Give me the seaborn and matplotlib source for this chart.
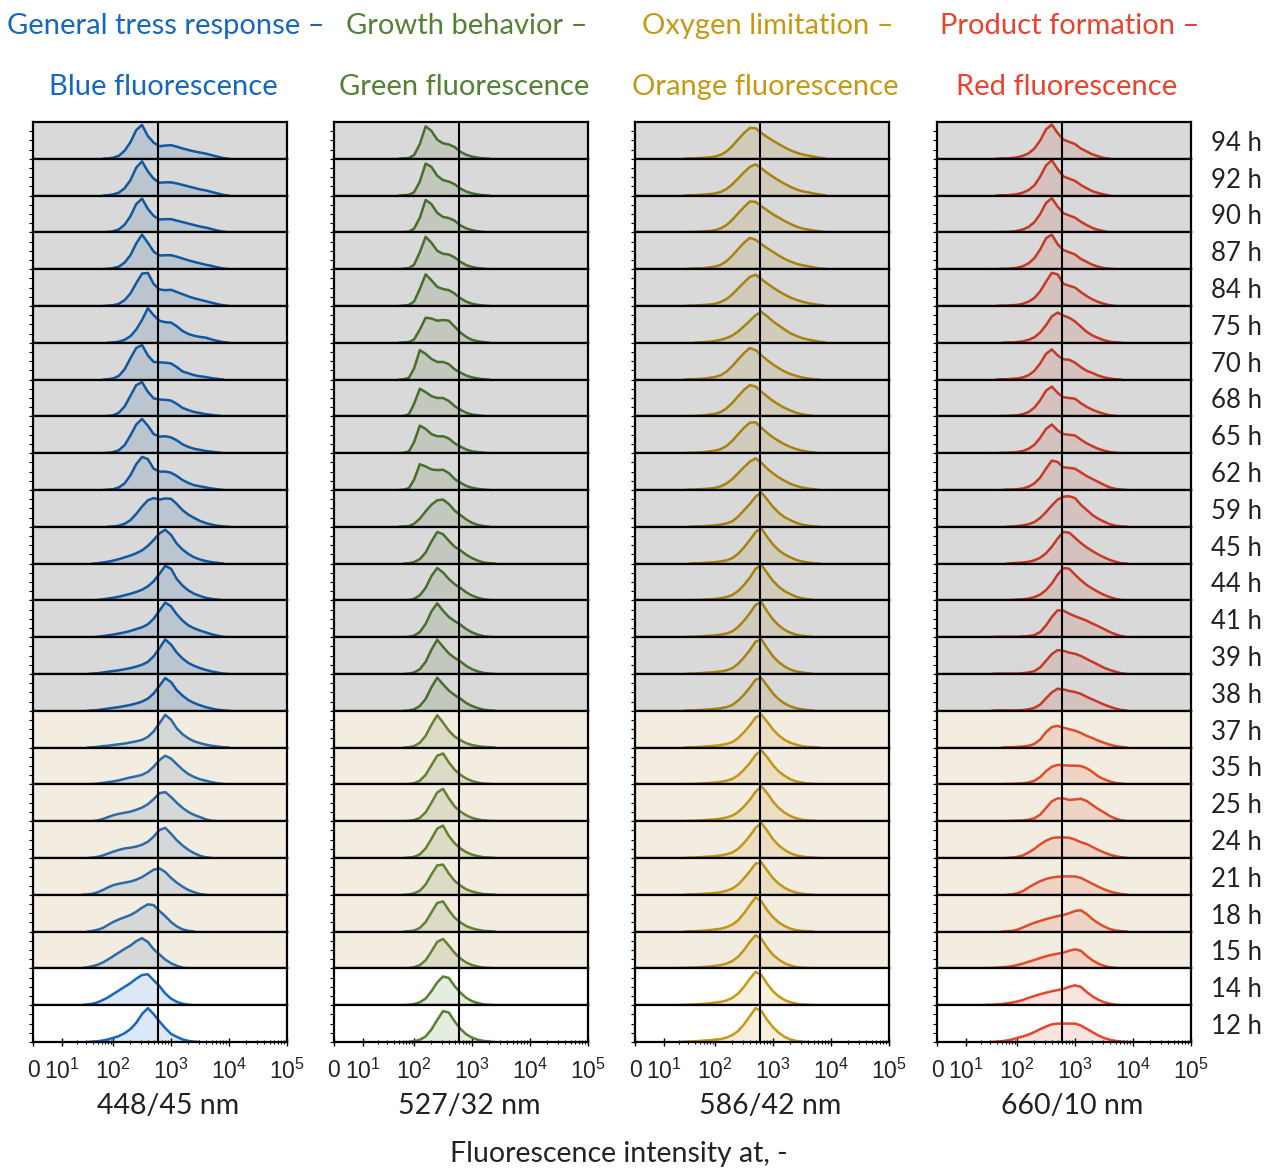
import numpy as np
import matplotlib
matplotlib.use("Agg")
import matplotlib.pyplot as plt
from matplotlib.patches import Rectangle
from matplotlib.ticker import FixedLocator, FixedFormatter
import seaborn as sns

# sampling time of each row, top to bottom
hours = ["94 h", "92 h", "90 h", "87 h", "84 h", "75 h", "70 h", "68 h", "65 h",
         "62 h", "59 h", "45 h", "44 h", "41 h", "39 h", "38 h", "37 h", "35 h",
         "25 h", "24 h", "21 h", "18 h", "15 h", "14 h", "12 h"]
zone = ["gray"] * 16 + ["beige"] * 7 + ["white"] * 2

# x positions of the read heights, in decades (log10 of intensity)
blue_log = np.round(np.arange(1.4, 4.05, 0.1), 1)
green_log = np.round(np.arange(1.7, 3.45, 0.1), 1)
orange_log = np.round(np.arange(1.3, 3.95, 0.1), 1)
red_log = np.round(np.arange(1.4, 3.95, 0.1), 1)

# histogram heights, % of row height, one list per row (same order as hours)
blue = [
    [0,0,0,0,0,1,3,8,22,45,78,92,62,44,34,36,37,33,28,24,20,17,14,10,6,2,0],
    [0,0,0,0,0,1,3,8,20,42,76,93,66,46,35,36,36,33,29,25,21,17,14,10,6,2,0],
    [0,0,0,0,0,1,3,8,21,44,77,92,64,45,35,36,36,32,28,24,20,16,13,9,5,2,0],
    [0,0,0,0,0,1,3,7,18,38,70,94,72,48,37,38,38,34,29,24,20,16,12,9,5,2,0],
    [0,0,0,0,0,1,2,6,16,34,62,88,90,60,45,43,44,38,32,26,21,17,13,9,5,2,0],
    [0,0,0,0,0,0,1,3,8,18,36,62,94,75,60,56,55,45,32,24,19,16,14,9,5,2,0],
    [0,0,0,0,0,1,3,10,28,58,86,94,66,48,47,46,44,34,22,17,12,9,7,4,2,0,0],
    [0,0,0,0,0,1,3,10,27,56,85,93,67,49,46,45,43,34,23,17,12,9,6,4,2,0,0],
    [0,0,0,0,0,1,3,8,22,48,78,93,75,52,45,46,43,35,24,17,12,9,6,4,2,0,0],
    [0,0,0,0,0,1,2,7,18,40,70,90,84,58,50,50,47,38,27,19,13,10,7,4,2,0,0],
    [0,0,0,0,0,0,1,3,8,18,35,55,72,78,74,77,76,62,45,33,24,16,10,6,3,1,0],
    [0,0,0,1,3,5,8,12,17,22,28,36,48,64,82,92,78,54,38,26,17,11,7,4,2,0,0],
    [0,0,0,1,3,5,7,10,14,18,23,29,38,52,72,94,86,58,40,27,18,12,7,4,2,0,0],
    [0,0,0,1,3,5,7,10,13,17,22,27,35,50,72,94,84,62,45,32,24,18,13,8,4,1,0],
    [0,0,1,2,4,6,8,10,13,16,20,25,33,48,70,94,80,58,42,30,22,16,11,7,4,1,0],
    [0,0,1,2,4,6,8,10,13,16,20,25,33,47,68,89,78,56,41,29,21,15,10,6,3,1,0],
    [0,0,1,2,4,5,7,9,11,14,17,21,29,44,66,89,76,52,36,25,17,12,8,5,3,1,0],
    [0,0,1,2,4,6,8,11,15,19,22,26,34,48,66,78,70,55,40,28,20,14,10,6,3,1,0],
    [0,0,0,2,6,11,16,20,23,26,31,37,46,60,76,79,66,50,36,25,17,11,5,1,0,0,0],
    [0,0,1,3,7,12,17,22,26,28,31,36,44,58,76,82,66,48,34,22,13,6,2,0,0,0,0],
    [0,1,3,7,13,20,26,30,33,36,41,48,58,68,72,62,46,33,22,13,7,2,0,0,0,0,0],
    [0,0,2,5,10,18,26,33,39,45,54,65,74,72,56,42,26,14,6,2,0,0,0,0,0,0,0],
    [1,3,6,10,16,24,33,43,53,62,74,82,72,52,38,24,14,7,2,0,0,0,0,0,0,0,0],
    [0,2,4,8,14,21,30,40,50,60,72,82,84,68,52,32,18,9,4,1,0,0,0,0,0,0,0],
    [0,0,1,2,4,7,11,16,24,35,52,76,92,76,56,38,22,14,7,3,1,0,0,0,0,0,0],
]
green = [
    [0,1,2,10,40,88,76,52,42,39,32,19,11,6,3,1,0,0],
    [0,1,2,9,38,87,78,54,42,38,31,19,11,6,3,1,0,0],
    [0,1,2,10,40,88,77,53,42,39,32,19,11,6,3,1,0,0],
    [0,1,3,12,46,88,72,50,42,40,32,20,11,6,3,1,0,0],
    [0,1,3,12,46,86,70,52,46,43,34,21,12,6,3,1,0,0],
    [0,1,2,9,36,68,66,60,62,60,44,28,16,8,4,2,0,0],
    [0,1,5,30,80,70,56,48,48,42,28,19,11,6,3,1,0,0],
    [0,1,6,34,75,66,55,50,50,42,28,18,10,5,3,1,0,0],
    [0,1,5,30,75,66,52,46,46,40,27,18,10,5,3,1,0,0],
    [0,1,5,28,70,64,56,54,55,46,30,20,11,6,3,1,0,0],
    [0,1,2,8,22,42,60,72,74,62,44,32,20,11,5,2,0,0],
    [0,0,1,4,12,30,60,86,80,62,46,36,24,15,8,3,1,0],
    [0,0,1,4,14,34,66,88,76,58,44,34,22,13,7,3,1,0],
    [0,0,1,4,14,36,70,92,72,55,44,34,22,13,7,3,1,0],
    [0,0,1,4,13,33,66,93,74,56,44,34,22,13,7,3,1,0],
    [0,0,1,4,13,32,64,90,72,55,43,33,21,13,7,3,1,0],
    [0,0,1,4,13,32,62,88,68,46,30,20,12,7,4,2,1,0],
    [0,0,1,3,10,26,52,78,84,60,40,26,16,9,5,2,1,0],
    [0,0,1,3,9,24,50,78,88,62,40,26,16,9,5,2,1,0],
    [0,0,1,3,10,26,52,80,88,60,40,26,16,9,5,2,1,0],
    [0,0,1,4,11,28,55,80,82,58,38,25,15,9,5,2,1,0],
    [0,0,1,3,10,26,52,78,82,58,38,25,15,9,5,2,1,0],
    [0,0,1,3,9,22,46,72,80,62,42,27,16,9,5,2,1,0],
    [0,0,1,3,8,18,38,62,78,74,52,34,20,11,6,2,1,0],
    [0,0,0,2,6,15,34,60,84,80,56,36,21,12,6,3,1,0],
]
orange = [
    [0,0,1,1,2,3,4,6,11,20,35,53,70,84,83,70,59,49,40,31,23,17,12,9,6,3,1],
    [0,0,1,1,2,3,4,6,10,18,31,47,63,78,85,74,62,51,41,32,24,17,12,9,6,3,1],
    [0,0,1,1,2,3,4,6,11,20,35,52,69,84,83,71,60,49,40,31,23,16,11,8,5,3,1],
    [0,0,1,2,2,3,5,7,12,22,37,55,72,85,80,68,57,47,37,28,21,15,11,8,5,2,1],
    [0,0,1,1,2,3,4,6,11,19,32,48,64,79,85,73,61,50,40,31,23,17,12,8,5,3,1],
    [0,0,0,0,1,2,3,5,8,13,20,31,45,60,75,84,72,58,47,36,26,19,13,9,6,3,1],
    [0,0,1,1,2,3,5,7,12,22,37,55,72,86,80,66,53,41,31,22,15,10,6,3,1,0,0],
    [0,0,1,1,2,3,5,7,12,22,37,55,72,85,81,67,54,42,32,23,16,10,6,3,1,0,0],
    [0,0,1,1,2,3,5,7,11,20,34,52,69,83,84,69,55,43,33,24,17,11,7,4,2,0,0],
    [0,0,1,1,2,3,4,6,10,18,30,46,62,77,86,74,58,45,34,25,17,11,7,4,2,0,0],
    [0,0,0,1,1,2,3,4,6,9,15,28,45,62,82,93,74,54,38,26,18,11,6,3,1,0,0],
    [0,0,0,1,1,2,3,4,6,9,15,27,44,64,86,96,72,52,36,25,17,10,6,3,1,0,0],
    [0,0,0,1,1,2,3,4,6,9,15,26,42,62,86,97,74,53,37,25,17,10,6,3,1,0,0],
    [0,0,1,1,2,3,4,5,7,10,16,28,45,65,88,95,70,48,32,20,12,7,4,2,0,0,0],
    [0,0,1,1,2,3,4,5,7,10,16,28,45,65,88,94,70,48,32,20,12,7,4,2,0,0,0],
    [0,0,1,1,2,3,4,5,7,10,16,28,44,63,85,89,68,47,31,20,12,7,4,2,0,0,0],
    [0,0,1,1,2,3,4,5,7,10,15,26,42,60,82,89,70,49,33,21,13,8,4,2,1,0,0],
    [0,0,1,1,2,3,4,5,7,10,15,25,40,58,80,92,74,52,35,23,14,8,5,2,1,0,0],
    [0,0,1,1,2,3,4,5,7,10,15,25,40,58,80,95,76,53,36,23,14,8,4,2,1,0,0],
    [0,0,1,1,2,3,4,5,7,10,15,25,41,60,82,95,74,51,34,22,13,7,4,2,1,0,0],
    [0,0,1,1,2,3,4,5,7,11,17,28,45,64,85,88,66,45,30,19,11,6,3,1,0,0,0],
    [0,0,1,1,2,3,4,6,8,12,19,31,50,72,93,82,58,39,25,15,8,4,2,1,0,0,0],
    [1,1,2,2,3,4,5,7,9,13,20,32,50,72,90,80,56,37,24,14,8,4,2,1,0,0,0],
    [0,1,1,2,3,4,5,7,9,13,20,32,50,72,91,82,58,38,24,14,8,4,2,1,0,0,0],
    [0,1,1,2,3,4,5,6,8,12,19,30,48,70,92,84,60,40,25,14,7,3,1,0,0,0,0],
]
red = [
    [0,0,0,1,1,2,4,8,15,28,50,80,93,70,52,46,40,28,20,12,7,2,0,0,0,0],
    [0,0,0,1,1,2,4,8,15,28,52,82,96,72,52,46,40,29,20,12,7,3,0,0,0,0],
    [0,0,0,1,1,2,4,8,15,28,50,80,93,70,52,46,40,29,20,12,7,3,0,0,0,0],
    [0,0,0,1,1,2,4,8,16,30,54,84,94,68,52,46,40,28,20,12,7,3,1,0,0,0],
    [0,0,0,1,1,2,3,6,12,22,40,66,90,86,60,55,50,38,27,18,11,6,2,0,0,0],
    [0,0,0,0,1,1,2,4,8,15,28,48,72,82,74,68,58,44,30,20,13,7,3,1,0,0],
    [0,0,0,1,1,2,3,6,12,24,44,70,82,66,55,54,46,34,24,18,11,6,3,1,0,0],
    [0,0,0,1,1,2,3,6,12,24,44,70,81,64,52,50,48,36,26,18,12,7,3,1,0,0],
    [0,0,0,1,1,2,3,6,12,23,42,66,78,62,52,50,48,37,27,19,12,7,3,1,0,0],
    [0,0,0,0,1,1,2,4,9,18,34,58,80,76,62,60,58,48,38,30,22,14,7,3,1,0],
    [0,0,0,0,0,1,2,4,7,13,24,40,58,74,82,83,78,60,46,32,22,14,7,3,1,0],
    [0,0,0,0,0,1,2,3,5,9,16,28,46,68,86,84,70,56,44,34,25,17,10,5,1,0],
    [0,0,0,0,0,1,2,3,5,9,16,28,46,70,88,86,70,55,42,32,23,15,9,4,1,0],
    [0,0,1,1,1,1,1,2,3,6,14,32,55,73,72,64,57,51,45,37,30,22,14,8,3,0],
    [0,0,1,1,1,1,1,2,4,8,18,36,54,65,63,58,55,49,41,33,25,17,11,6,2,0],
    [0,0,1,1,1,1,1,2,4,8,17,34,50,60,58,54,51,46,38,31,24,17,11,6,2,0],
    [0,0,0,0,1,1,2,3,5,10,22,42,56,59,54,50,46,40,32,26,19,13,8,4,2,0],
    [0,0,0,0,1,1,2,3,5,10,20,36,48,53,52,51,51,50,44,34,22,14,8,4,2,0],
    [0,0,0,0,0,1,1,2,4,8,18,36,54,62,62,58,59,61,55,44,33,24,14,7,2,0],
    [0,0,0,0,0,1,3,7,15,25,37,47,54,56,56,55,50,43,38,30,22,15,9,5,2,0],
    [0,0,0,0,0,1,4,10,20,29,37,43,47,49,50,50,50,46,38,30,22,15,9,5,2,0],
    [0,0,0,0,1,2,5,11,18,24,29,34,38,42,45,50,56,58,48,34,23,14,7,3,1,0],
    [1,1,2,3,4,6,9,13,18,23,28,33,37,40,43,48,52,48,34,22,13,7,3,1,0,0],
    [1,1,2,3,5,7,10,14,20,25,30,34,38,41,44,50,54,50,36,24,15,8,4,1,0,0],
    [0,0,1,2,4,7,11,15,20,27,35,42,48,50,50,50,50,45,36,27,18,11,6,3,1,0],
]

titles_top = ["General tress response \u2013", "Growth behavior \u2013",
              "Oxygen limitation \u2013", "Product formation \u2013"]
titles_bottom = ["Blue fluorescence", "Green fluorescence",
                 "Orange fluorescence", "Red fluorescence"]
filters = ["448/45 nm", "527/32 nm", "586/42 nm", "660/10 nm"]
colors = ["#1668bd", "#548235", "#c49a14", "#e8432d"]
tick_values = [0, 10, 100, 1000, 10000, 100000]
tick_labels = ["0"] + [r"$\mathregular{10^{%d}}$" % k for k in range(1, 6)]
gate = 10 ** 2.78

columns = [(blue_log, blue), (green_log, green), (orange_log, orange), (red_log, red)]
for grid, rows in columns:
    assert len(rows) == len(hours)
    assert all(len(r) == len(grid) for r in rows)


# logicle-like axis: short linear part near 0, compressed first decade, then log
def fwd(x):
    x = np.asarray(x, float)
    a = 0.5 + 0.88 * np.log10(np.clip(x, 10, 100) / 10)
    b = 1.38 + np.log10(np.maximum(x, 100) / 100)
    return np.where(x < 10, 0.05 * x, np.where(x < 100, a, b))


def inv(y):
    y = np.asarray(y, float)
    a = 10 * 10 ** ((np.clip(y, 0.5, 1.38) - 0.5) / 0.88)
    b = 100 * 10 ** (np.clip(y, 1.38, 8) - 1.38)
    return np.where(y < 0.5, y / 0.05, np.where(y < 1.38, a, b))


sns.set_theme(style="white")
plt.rcParams["font.family"] = ["Lato", "DejaVu Sans"]
plt.rcParams["mathtext.fontset"] = "custom"
plt.rcParams["mathtext.rm"] = "Liberation Sans"

W, H = 1266, 1168
fig = plt.figure(figsize=(W / 100, H / 100), dpi=100)
col_left = [33, 334, 635, 937]
col_w = 254
top_px = 122
row_h = 36.8
overlay = {"gray": ((0, 0, 0), 0.15), "beige": ((0.69, 0.5, 0.19), 0.15), "white": None}

for c, (grid, rows) in enumerate(columns):
    for r, vals in enumerate(rows):
        y0 = top_px + (r + 1) * row_h
        ax = fig.add_axes([col_left[c] / W, 1 - y0 / H, col_w / W, row_h / H])
        y = np.array(vals, float)
        # draw only where the histogram has events (plus one empty bin each side)
        nz = np.nonzero(y)[0]
        lo, hi = max(nz[0] - 1, 0), min(nz[-1] + 2, len(y))
        x = 10 ** grid[lo:hi]
        y = y[lo:hi]
        ax.fill_between(x, y, color=colors[c], alpha=0.15, lw=0, zorder=1)
        sns.lineplot(x=x, y=y, ax=ax, color=colors[c], lw=1.8, zorder=2)
        ax.set_xscale("function", functions=(fwd, inv))
        ax.set_xlim(0, 1e5)
        ax.set_ylim(0, 100)
        ax.set_xlabel("")
        ax.set_ylabel("")
        if overlay[zone[r]] is not None:
            fc, a = overlay[zone[r]]
            ax.add_patch(Rectangle((0, 0), 1, 1, transform=ax.transAxes,
                                   facecolor=fc, alpha=a, lw=0, zorder=2.2))
        ax.axvline(gate, color="black", lw=1.5, zorder=2.4)
        for s in ax.spines.values():
            s.set_color("black")
            s.set_linewidth(1.6)
        ax.set_yticks([0, 25, 50, 75])
        ax.tick_params(axis="y", left=True, length=3, width=0.8, direction="out",
                       color="black", labelleft=False, pad=0)
        if r == len(rows) - 1:
            ax.xaxis.set_major_locator(FixedLocator(tick_values))
            ax.xaxis.set_major_formatter(FixedFormatter(tick_labels))
            minor = [m * 10 ** k for k in range(1, 5) for m in range(2, 10)]
            ax.xaxis.set_minor_locator(FixedLocator(minor))
            ax.tick_params(axis="x", which="major", bottom=True, length=6, width=1,
                           direction="inout", color="black", labelsize=16.5, pad=9)
            ax.tick_params(axis="x", which="minor", bottom=True, length=3, width=0.8,
                           direction="inout", color="black")
            for lab in ax.get_xticklabels():
                lab.set_fontfamily("Liberation Sans")
                lab.set_color("#222222")
        else:
            ax.tick_params(axis="x", which="both", bottom=False, labelbottom=False)

    cx = (col_left[c] + col_w / 2) / W
    fig.text(cx + 6 / W, 1 - 26 / H, titles_top[c], color=colors[c], fontsize=21,
             ha="center", va="center")
    fig.text(cx + 3 / W, 1 - 87 / H, titles_bottom[c], color=colors[c], fontsize=21,
             ha="center", va="center")
    fig.text(cx + 8 / W, 1 - 1106 / H, filters[c], color="#222222", fontsize=20.5,
             ha="center", va="center")

for r, lab in enumerate(hours):
    fig.text(1211 / W, 1 - (top_px + (r + 0.5) * row_h + 3) / H, lab, fontsize=18.5,
             color="#222222", ha="left", va="center")

fig.text(619 / W, 1 - 1154 / H, "Fluorescence intensity at, -", fontsize=20.5,
         color="#222222", ha="center", va="center")

fig.savefig("out.png", dpi=100, facecolor="white")
